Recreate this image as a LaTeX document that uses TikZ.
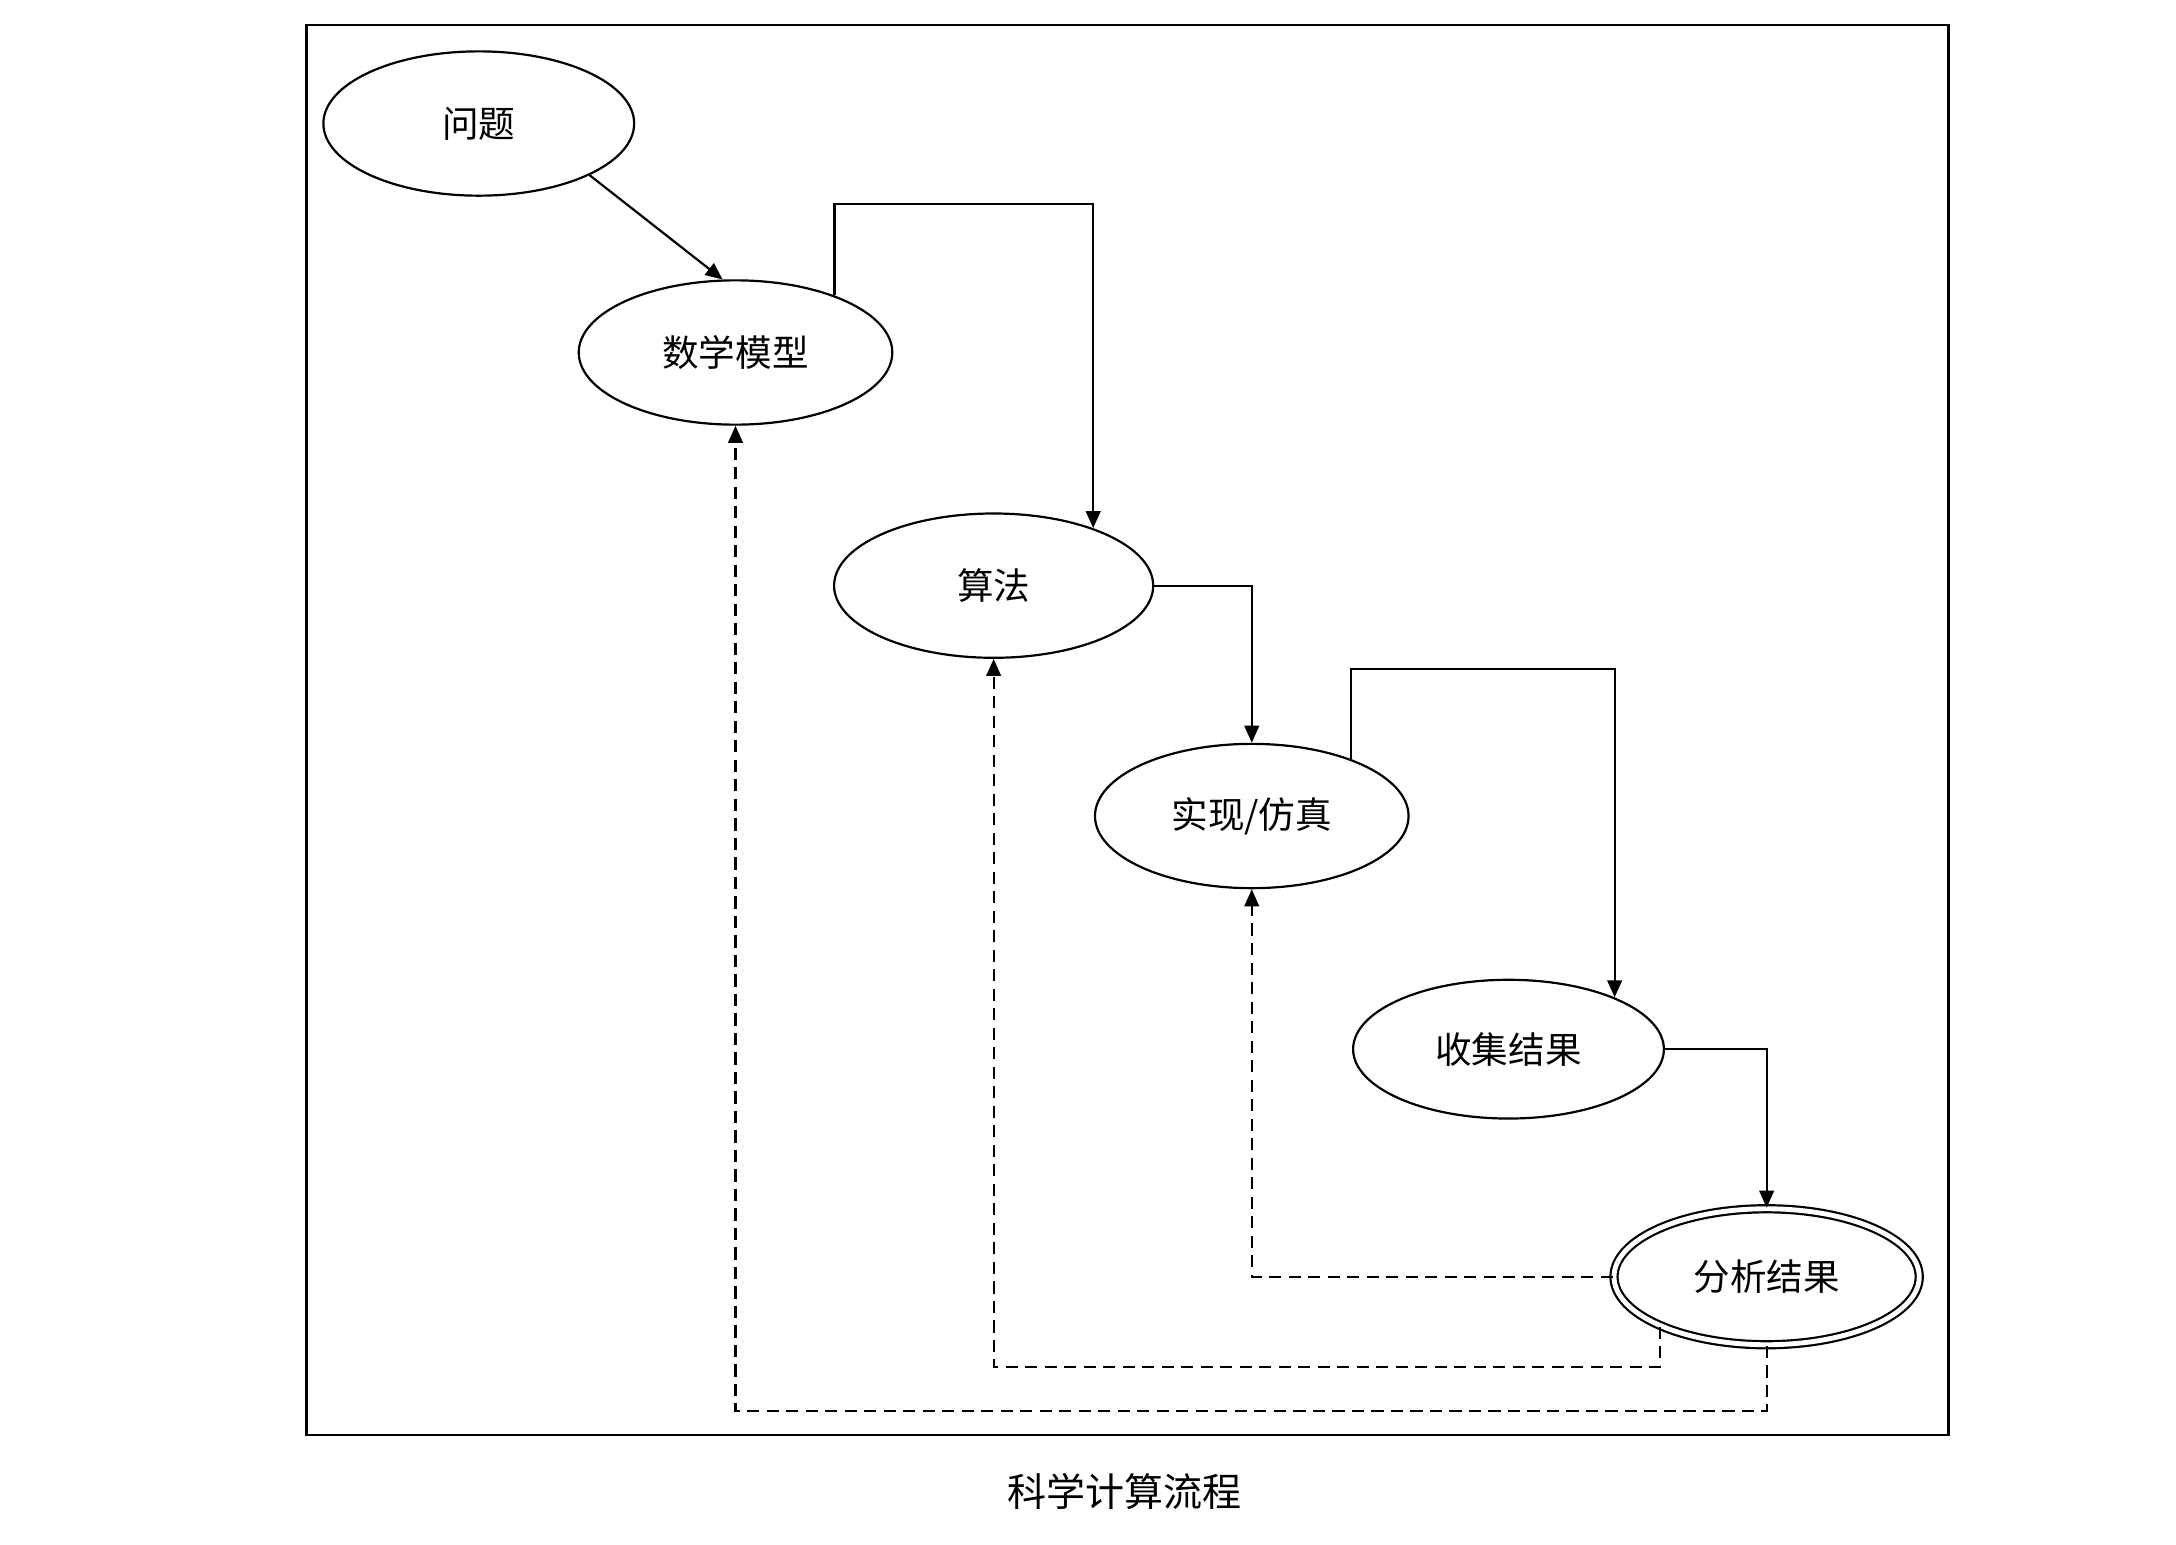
\documentclass[tikz,border=0pt]{standalone}
\usepackage{fontspec}
\setmainfont{Noto Sans CJK SC}
\usetikzlibrary{shapes.geometric,arrows.meta}
\begin{document}
\begin{tikzpicture}[x=0.02cm,y=-0.02cm,
  el/.style={ellipse,draw,line width=0.9pt,font=\fontsize{15}{17}\selectfont},
  arr/.style={line width=0.9pt,-{Triangle[length=7pt,width=6pt]}},
  darr/.style={arr,dashed,dash pattern=on 5pt off 3pt}]
\useasboundingbox (0,0) rectangle (1568,1113);
\draw[line width=1pt] (221,18) rectangle (1404,1034);
\node[el,minimum width=4.48cm,minimum height=2.08cm] (q) at (345,89) {问题};
\node[el,minimum width=4.52cm,minimum height=2.08cm] (m) at (530,254) {数学模型};
\node[el,minimum width=4.6cm,minimum height=2.08cm] (a) at (716,422) {算法};
\node[el,minimum width=4.52cm,minimum height=2.08cm] (s) at (902,588) {实现/仿真};
\node[el,minimum width=4.48cm,minimum height=2.0cm] (c) at (1087,756) {收集结果};
\node[el,double,double distance=2pt,minimum width=4.4cm,minimum height=1.96cm] (f) at (1273,920) {分析结果};
\node[font=\fontsize{16}{18}\selectfont] (cap) at (810,1075) {科学计算流程};
\draw[arr] (q.-25) -- (m.100);
\coordinate (c1) at (786,147);
\draw[arr] (m.30) |- (a.30 |- c1) -- (a.30);
\draw[arr] (a.east) -| (s.north);
\coordinate (c2) at (1163,482);
\draw[arr] (s.30) |- (c.26 |- c2) -- (c.26);
\draw[arr] (c.east) -| (f.north);
\draw[darr] (f.west) -| (s.south);
\coordinate (d2) at (716,985);
\draw[darr] (f.205) |- (a.south |- d2) -- (a.south);
\coordinate (d3) at (521,1017);
\draw[darr] (f.south) |- (m.south |- d3) -- (m.south);
\end{tikzpicture}
\end{document}
